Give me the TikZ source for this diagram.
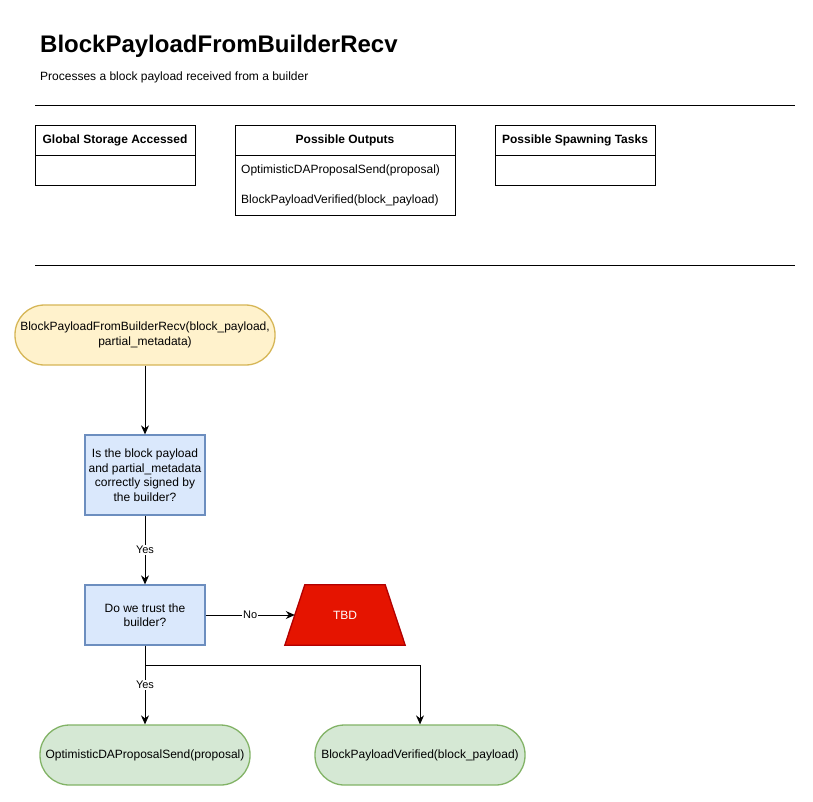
\documentclass[tikz,border=0pt]{standalone}
\usepackage{fontspec}
\setmainfont{Liberation Sans}
\usetikzlibrary{arrows.meta,shapes.geometric}
\definecolor{yfill}{HTML}{FFF2CC}
\definecolor{ydraw}{HTML}{D6B656}
\definecolor{bfill}{HTML}{DAE8FC}
\definecolor{bdraw}{HTML}{6C8EBF}
\definecolor{gfill}{HTML}{D5E8D4}
\definecolor{gdraw}{HTML}{82B366}
\definecolor{rfill}{HTML}{E51400}
\definecolor{rdraw}{HTML}{B20000}
\tikzset{
  body/.style={font=\fontsize{12}{14.5}\selectfont},
  term/.style={body, draw, rounded corners=29.5pt, minimum height=60pt, align=center, inner sep=2pt, line width=1.3pt},
  procbox/.style={body, draw=bdraw, fill=bfill, minimum width=120pt, align=center, inner sep=2pt, line width=1.3pt},
  arr/.style={-{Stealth[length=9pt,width=8pt,inset=3pt]}, line width=0.9pt},
  lbl/.style={font=\fontsize{11}{13}\selectfont, fill=white, inner sep=1pt},
  tbox/.style={draw, line width=0.9pt},
  head/.style={font=\bfseries\fontsize{12}{14}\selectfont},
}
\begin{document}
\begin{tikzpicture}[x=1pt,y=-1pt]
\useasboundingbox (0,0) rectangle (813,801);
\fill[white] (0,0) rectangle (813,801);

% title
\node[anchor=base west, inner sep=0, font=\bfseries\fontsize{24}{28}\selectfont] (title) at (40,52) {BlockPayloadFromBuilderRecv};
\node[anchor=base west, inner sep=0, body] (sub) at (40,80) {Processes a block payload received from a builder};
\draw[line width=0.9pt] (35,105) -- (795,105);
\draw[line width=0.9pt] (35,265) -- (795,265);

% tables
\draw[tbox] (35,125) rectangle (195,185);
\draw[tbox] (35,155) -- (195,155);
\node[head] (h1) at (115,140) {Global Storage Accessed};

\draw[tbox] (235,125) rectangle (455,215);
\draw[tbox] (235,155) -- (455,155);
\node[head] (h2) at (345,140) {Possible Outputs};
\node[body, anchor=west, inner sep=0] (o1) at (241,170) {OptimisticDAProposalSend(proposal)};
\node[body, anchor=west, inner sep=0] (o2) at (241,200) {BlockPayloadVerified(block\_payload)};

\draw[tbox] (495,125) rectangle (655,185);
\draw[tbox] (495,155) -- (655,155);
\node[head] (h3) at (575,140) {Possible Spawning Tasks};

% flow
\node[term, draw=ydraw, fill=yfill, minimum width=260pt] (start) at (145,335) {BlockPayloadFromBuilderRecv(block\_payload,\\partial\_metadata)};
\node[procbox, minimum height=80pt] (q1) at (145,475) {Is the block payload\\and partial\_metadata\\correctly signed by\\the builder?};
\node[procbox, minimum height=60pt] (q2) at (145,615) {Do we trust the\\builder?};
\node[minimum width=120pt, minimum height=60pt, inner sep=0] (tbd) at (345,615) {};
\filldraw[draw=rdraw, fill=rfill, line width=1.3pt, line join=miter]
  (tbd.south west) -- ([xshift=20pt]tbd.north west) -- ([xshift=-20pt]tbd.north east) -- (tbd.south east) -- cycle;
\node[text=white, body] (tbdtext) at (tbd.center) {TBD};
\coordinate (tbdin) at ([xshift=10pt]tbd.west);
\node[term, draw=gdraw, fill=gfill, minimum width=210pt] (out1) at (145,755) {OptimisticDAProposalSend(proposal)};
\node[term, draw=gdraw, fill=gfill, minimum width=210pt] (out2) at (420,755) {BlockPayloadVerified(block\_payload)};

\draw[arr] (start) -- (q1);
\draw[arr] (q1) -- node[lbl]{Yes} (q2);
\draw[arr] (q2) -- node[lbl]{No} (tbdin);
\draw[arr] (q2) -- node[lbl]{Yes} (out1);
\draw[arr] (q2.south) -- ++(0,20) -| (out2.north);
\end{tikzpicture}
\end{document}
